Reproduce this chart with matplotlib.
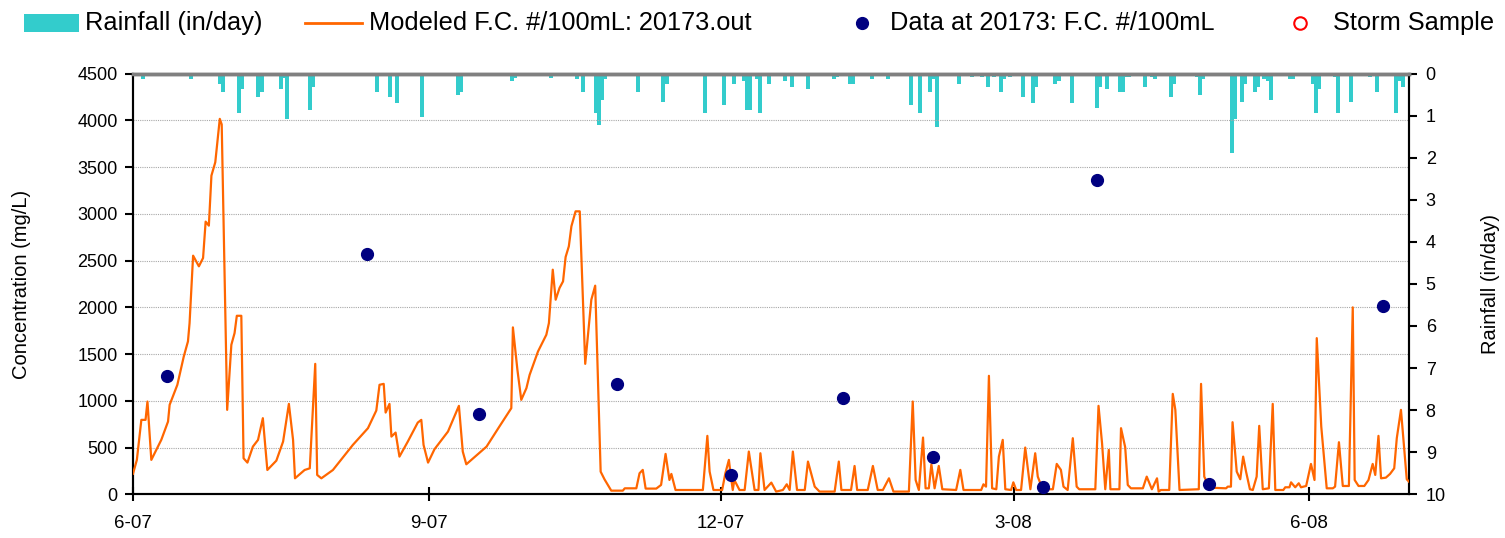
import matplotlib
matplotlib.use('Agg')
import matplotlib.pyplot as plt
import matplotlib.dates as mdates
from matplotlib.lines import Line2D
from matplotlib.patches import Rectangle
from matplotlib.ticker import FuncFormatter, MultipleLocator
import numpy as np
import pandas as pd

BASE = pd.Timestamp('2007-06-01')
END_DAY = 397

# Modeled F.C. (#/100mL) - vertices, day offset from 2007-06-01
model_day = [0, 1.2, 2.6, 3.9, 4.5, 5.7, 8.8, 10.9, 11.4, 13.8, 15.8, 17.1, 17.6, 18.7, 20.5, 21.8,
             22.6, 23.6, 24.4, 25.6, 27.0, 27.6, 29.3, 30.6, 31.6, 32.3, 33.7, 34.4, 35.6, 37.3,
             38.9, 40.4, 41.8, 44.6, 46.7, 48.5, 49.8, 50.4, 53.4, 55.0, 56.7, 57.3, 58.6, 62.2,
             68.4, 73.1, 75.7, 76.7, 78.0, 78.6, 79.8, 80.4, 81.7, 82.9, 85.5, 88.6, 89.7, 90.4,
             91.8, 93.8, 98.0, 101.4, 102.6, 103.7, 110.0, 114.0, 117.7,
             118.2, 119.6, 120.8, 122.4, 123.4, 126.0, 128.6, 129.4, 130.6, 131.5, 132.7, 133.8,
             134.6, 135.6, 136.4, 137.7, 139.0, 140.7, 142.6, 143.8, 145.5, 146.7, 148.8, 152.4,
             153.0, 156.6, 157.6,
             158.6, 159.5, 162.8, 164.3, 165.7, 166.9, 167.5, 168.8, 177.3, 178.7, 179.4, 180.6,
             183.3, 184.3, 185.4, 185.8, 186.6, 187.1, 188.7, 190.3, 191.6, 193.4, 194.6, 195.2,
             196.5, 198.6, 200.1, 202.2, 203.4, 204.3, 205.3, 206.6, 209.0, 210.0, 212.1, 213.6,
             218.3, 219.6, 220.4, 223.4, 224.5, 225.3, 228.6, 230.2, 231.7, 233.3, 235.2, 236.6,
             241.4, 242.6, 243.5, 244.5, 245.8, 246.6, 247.6, 248.4, 249.4, 250.7, 251.8, 256.1,
             257.4, 258.4, 263.9, 264.6, 265.4, 266.3, 267.3, 268.6, 269.4, 270.6, 271.4,
             273.2, 273.9, 274.8, 276.3, 277.6, 279.2, 280.7, 281.5, 282.5, 283.6, 286.2, 287.4,
             288.7, 289.5, 290.8, 292.4, 293.6, 294.4, 299.4, 300.4, 301.5, 302.5, 303.6, 304.1,
             306.9, 307.4, 308.7, 309.5, 310.5, 314.2, 315.4, 317.0, 318.6, 319.1, 319.8, 322.4,
             323.5, 324.3, 325.6, 331.6, 332.3, 333.3, 334.9, 340.1, 340.6, 341.6, 342.1, 343.4,
             344.5, 345.4, 346.3, 347.5, 348.4, 349.6, 350.4, 351.5, 353.4, 354.6, 355.4, 357.9,
             358.5, 359.8, 360.3, 361.6, 362.7, 363.4, 365.0, 366.5, 367.6, 368.3, 369.7, 371.4,
             373.3, 374.0, 375.2, 376.4, 378.3, 379.5, 380.1, 381.3, 383.1, 384.4, 385.7, 386.5,
             387.5, 388.3, 389.8, 391.1, 392.4, 393.2, 394.5, 396.3, 398.2]
model_fc = [220, 368, 796, 796, 992, 368, 582, 778, 957, 1171, 1474, 1635, 1831, 2552, 2438, 2527,
            2916, 2873, 3408, 3551, 4015, 3955, 903, 1599, 1724, 1909, 1909, 385, 339, 510,
            582, 814, 260, 360, 564, 967, 582, 171, 260, 278, 1395, 207, 171, 260,
            528, 707, 896, 1171, 1181, 874, 967, 617, 660, 403, 564, 767, 796, 528,
            339, 482, 671, 946, 457, 321, 510, 725, 921,
            1785, 1331, 1010, 1135, 1277, 1527, 1706, 1831, 2402, 2081, 2206, 2277,
            2538, 2652, 2866, 3026, 3026, 1395, 2081, 2231, 242, 160, 39, 39,
            64, 64, 225,
            261, 61, 61, 100, 432, 153, 218, 46, 46, 625, 243, 46,
            46, 225, 368, 250, 46, 153, 46, 46, 457, 46, 46, 439,
            46, 125, 29, 46, 107, 46, 457, 46, 46, 350, 82, 29,
            29, 350, 46, 46, 303, 46, 46, 303, 46, 46, 171, 29,
            29, 992, 153, 46, 607, 64, 64, 321, 64, 303, 54, 46,
            261, 46, 46, 107, 82, 1267, 64, 54, 403, 582, 54,
            46, 128, 46, 46, 500, 54, 439, 189, 100, 54, 54, 325,
            261, 82, 46, 600, 82, 54, 54, 946, 546, 54, 475, 54,
            54, 707, 503, 100, 64, 64, 189, 54, 171, 29, 46, 46,
            1074, 903, 46, 54, 1181, 189, 71, 64, 82, 82, 771, 243,
            161, 403, 243, 54, 46, 189, 732, 54, 64, 967, 46, 46,
            75, 75, 128, 75, 118, 75, 89, 325, 153, 1670, 725, 64,
            64, 82, 557, 89, 89, 1999, 153, 89, 89, 153, 325, 207,
            625, 171, 178, 218, 278, 600, 903, 161, 89]

# Observed data at 20173 (F.C. #/100mL)
data_day = [10.7, 72.8, 107.6, 150.7, 186.0, 220.8, 248.8, 283.0, 299.8, 334.7, 388.8]
data_fc = [1263, 2573, 860, 1178, 210, 1028, 403, 81, 3365, 107, 2009]

# Daily rainfall (in/day)
rain_day = [2, 3, 7, 18, 26, 27, 28, 33, 34, 39, 40, 44, 46, 47, 48, 55, 56, 66, 76, 80, 82, 90,
            101, 102, 105, 118, 119, 130,
            138, 140, 144, 145, 146, 147, 157, 161, 164, 165, 166, 174, 178, 184, 187, 189, 190,
            191, 192, 194, 195, 197, 198, 201, 203, 205, 210, 211, 215, 218, 219, 222, 223, 224,
            226, 230, 235, 242, 245, 248, 249, 250, 255, 257, 261, 264, 266,
            268, 270, 271, 273, 277, 280, 281, 283, 287, 288, 292, 300, 301, 303, 307, 308, 309,
            310, 315, 317, 318, 323, 324, 329, 331, 332, 333, 342, 343, 345, 346, 349, 350, 352,
            353, 354, 355, 360, 361, 367, 368, 369, 374, 375, 379, 383, 385, 387, 392, 393, 394,
            395]
rain_in = [0.04, 0.12, 0.04, 0.12, 0.04, 0.24, 0.44, 0.95, 0.38, 0.57, 0.44, 0.07, 0.38, 0.10,
           1.09, 0.86, 0.32, 0.04, 0.45, 0.57, 0.69, 1.04,
           0.50, 0.45, 0.04, 0.19, 0.10, 0.10,
           0.12, 0.45, 0.95, 1.23, 0.62, 0.12, 0.43, 0.04, 0.04, 0.67, 0.24, 0.04, 0.95, 0.76,
           0.26, 0.04, 0.19,
           0.86, 0.86, 0.12, 0.95, 0.04, 0.24, 0.04, 0.19, 0.31, 0.38, 0.04, 0.04, 0.12, 0.08,
           0.04, 0.24, 0.24,
           0.04, 0.12, 0.12, 0.76, 0.95, 0.45, 0.12, 1.28, 0.04, 0.24, 0.08, 0.08, 0.31,
           0.08, 0.43, 0.12, 0.08, 0.57, 0.69, 0.31, 0.04, 0.26, 0.19, 0.69, 0.81, 0.31, 0.38,
           0.45, 0.45, 0.08,
           0.08, 0.31, 0.08, 0.12, 0.57, 0.24, 0.04, 0.08, 0.50, 0.12, 1.88, 1.09, 0.67, 0.24,
           0.45, 0.31, 0.12,
           0.19, 0.62, 0.04, 0.12, 0.12, 0.26, 0.95, 0.38, 0.08, 0.95, 0.67, 0.04, 0.08, 0.43,
           0.04, 0.95, 0.19,
           0.31]


def to_num(days):
    d = BASE + pd.to_timedelta(np.asarray(days, dtype=float), unit='D')
    return mdates.date2num(d.to_pydatetime())


plt.rcParams['font.family'] = ['Liberation Sans', 'DejaVu Sans']

W, H = 1505, 538
fig = plt.figure(figsize=(W / 100, H / 100), dpi=100)
left, right, top, bottom = 133, 1409, 73.5, 494.3
ax = fig.add_axes([left / W, 1 - bottom / H, (right - left) / W, (bottom - top) / H])
ax2 = ax.twinx()

ax2.bar(to_num(rain_day), rain_in, width=1.25, color='#33CCCC', align='center', linewidth=0)
ax2.set_ylim(10, 0)

ax.set_zorder(ax2.get_zorder() + 1)
ax.patch.set_visible(False)

ax.plot(to_num(model_day), model_fc, color='#FF6600', lw=1.6, zorder=3)
ax.plot(to_num(data_day), data_fc, linestyle='none', marker='o', color='#000080', ms=8.5, zorder=4)

ax.set_ylim(0, 4500)
ax.set_xlim(to_num([0])[0], to_num([END_DAY])[0])
ax.yaxis.set_major_locator(MultipleLocator(500))
ax2.yaxis.set_major_locator(MultipleLocator(1))
ax.yaxis.grid(True, linestyle=(0, (1, 1)), color='#A8A8A8', lw=0.8)
ax.set_axisbelow(True)

ax.xaxis.set_major_locator(mdates.MonthLocator(bymonth=[3, 6, 9, 12]))


def fmt_date(x, pos=None):
    d = mdates.num2date(x)
    return f"{d.month}-{d.strftime('%y')}"


ax.xaxis.set_major_formatter(FuncFormatter(fmt_date))

for a in (ax, ax2):
    a.spines['top'].set_color('#808080')
    a.spines['top'].set_linewidth(2.5)
    for s in ('left', 'right', 'bottom'):
        a.spines[s].set_color('black')
        a.spines[s].set_linewidth(1.5)

tick_fs = 13
ax.tick_params(axis='y', direction='out', length=6, width=1.5, labelsize=tick_fs, pad=5)
ax.tick_params(axis='x', direction='inout', length=10, width=1.5, labelsize=tick_fs + 0.5, pad=10)
ax2.tick_params(axis='y', direction='out', length=6, width=1.5, labelsize=tick_fs, pad=6)

fig.text(22 / W, 1 - 284 / H, 'Concentration (mg/L)', fontsize=14.5, rotation=90,
         va='center', ha='center')
fig.text(1490 / W, 1 - 284 / H, 'Rainfall (in/day)', fontsize=14.5, rotation=90,
         va='center', ha='center')

# Legend row (manual layout)
ly = 1 - 23 / H
leg_fs = 18.3
fig.add_artist(Rectangle((24 / W, 1 - 32 / H), 55 / W, 18 / H, transform=fig.transFigure,
                         color='#33CCCC', lw=0))
fig.text(85 / W, ly, 'Rainfall (in/day)', fontsize=leg_fs, va='center', ha='left')
fig.add_artist(Line2D([305 / W, 362 / W], [ly, ly], transform=fig.transFigure,
                      color='#FF6600', lw=2))
fig.text(369 / W, ly, 'Modeled F.C. #/100mL: 20173.out', fontsize=leg_fs, va='center', ha='left')
fig.add_artist(Line2D([862 / W], [ly], transform=fig.transFigure, marker='o', ls='none',
                      color='#000080', ms=8.5))
fig.text(890 / W, ly, 'Data at 20173: F.C. #/100mL', fontsize=leg_fs, va='center', ha='left')
fig.add_artist(Line2D([1300 / W], [ly], transform=fig.transFigure, marker='o', ls='none',
                      mfc='none', mec='red', mew=1.5, ms=9))
fig.text(1333 / W, ly, 'Storm Sample', fontsize=leg_fs, va='center', ha='left')

fig.savefig('out.png', dpi=100)
